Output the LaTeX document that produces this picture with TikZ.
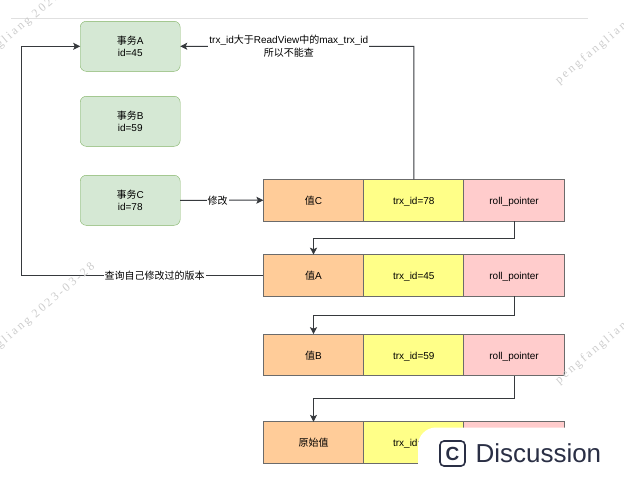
\documentclass[tikz,border=0pt]{standalone}
\usepackage{fontspec}
\setmainfont{Liberation Sans}
\newfontfamily\cjk{Noto Sans CJK SC}
\newfontfamily\markfont[LetterSpace=20]{Liberation Serif}
\usepackage{tikz}
\usetikzlibrary{arrows.meta, positioning}
\definecolor{boxline}{HTML}{36393D}
\definecolor{badgeink}{HTML}{2A2F45}
\definecolor{txnfill}{HTML}{D5E8D4}
\definecolor{txnline}{HTML}{82B366}
\definecolor{valfill}{HTML}{FFCC99}
\definecolor{trxfill}{HTML}{FFFF88}
\definecolor{ptrfill}{HTML}{FFCCCC}
\tikzset{
	txn/.style={
		rectangle, 
		rounded corners=6pt, 
		minimum width=100pt, 
		minimum height=50pt, 
		text centered, 
		align=center,
		draw=txnline, 
		fill=txnfill,
		font=\fontsize{10}{12.5}\selectfont,
		outer sep=0pt
	},
	cell/.style={
		rectangle, 
		minimum width=100.3pt, 
		minimum height=41.6pt, 
		text height=9pt,
		text depth=1pt,
		text centered, 
		draw=black!58, 
		line width=1pt,
		font=\fontsize{10}{12.5}\selectfont,
		outer sep=0pt
	},
	val/.style={cell, fill=valfill},
	trx/.style={cell, fill=trxfill},
	ptr/.style={cell, fill=ptrfill},
	lbl/.style={
		fill=white, 
		inner sep=1pt, 
		align=center,
		font=\fontsize{10}{12.5}\selectfont
	},
	watermark/.style={
		anchor=west, 
		rotate=40, 
		text=black!20, 
		inner sep=0pt,
		font=\markfont\fontsize{12}{12}\selectfont
	},
	arrow/.style={draw=boxline, line width=1pt,-{Stealth[length=7pt,width=7pt,inset=1.5pt]}}
}

\begin{document}
\begin{tikzpicture}[x=1pt, y=-1pt]
				\useasboundingbox (0,0) rectangle (624,479);
				\draw [black!12, line width=0.8pt] (11,18.5) -- (588,18.5);
				
				\node (txnA) [txn] at (130.2,46.3) {{\cjk 事务}A\\id=45};
				\node (txnB) [txn] at (130.2,121.3) {{\cjk 事务}B\\id=59};
				\node (txnC) [txn] at (130.2,200.3) {{\cjk 事务}C\\id=78};
				
				\node (valC) [val] at (313.5,200.2) {{\cjk 值}C};
				\node (trxC) [trx, right=0pt of valC] {trx\_id=78};
				\node (ptrC) [ptr, right=0pt of trxC] {roll\_pointer};
				
				\node (valA) [val] at (313.5,275.5) {{\cjk 值}A};
				\node (trxA) [trx, right=0pt of valA] {trx\_id=45};
				\node (ptrA) [ptr, right=0pt of trxA] {roll\_pointer};
				
				\node (valB) [val] at (313.5,355) {{\cjk 值}B};
				\node (trxB) [trx, right=0pt of valB] {trx\_id=59};
				\node (ptrB) [ptr, right=0pt of trxB] {roll\_pointer};
				
				\node (valO) [val] at (313.5,442.7) {\cjk 原始值};
				\node (trxO) [trx, right=0pt of valO] {trx\_id=\phantom{00}};
				\node (ptrO) [ptr, right=0pt of trxO] {};
				
				\coordinate (bendA) at (413.8,46.3);
				\coordinate (bendQ) at (21.7,275.5);
				
				\draw [arrow] (txnC) -- node[lbl, pos=.45] {\cjk 修改} (valC);
				\draw [arrow] (trxC.north) -- (bendA) -- node[lbl, pos=.535] {trx\_id{\cjk 大于}ReadView{\cjk 中的}max\_trx\_id\\{\cjk 所以不能查}} (txnA.east);
				\draw [arrow] (valA.west) -- node[lbl, pos=.45] {\cjk 查询自己修改过的版本} (bendQ) |- (txnA.west);
				\draw [arrow] (ptrC.south) -- ++(0,17.6) -| (valA.north);
				\draw [arrow] (ptrA.south) -- ++(0,19) -| (valB.north);
				\draw [arrow] (ptrB.south) -- ++(0,23) -| (valO.north);
				
				\node (markTL) [watermark] at (-45,82) {pengfangliang 2023-03-28};
				\node (markBL) [watermark] at (-45,382) {pengfangliang 2023-03-28};
				\node (markTR) [watermark] at (557,82) {pengfangliang 2023-03-28};
				\node (markBR) [watermark] at (557,382) {pengfangliang 2023-03-28};
				
				\fill [white, rounded corners=18pt] (418,427.5) rectangle (660,520);
				\node (badge) [draw=badgeink, line width=1.6pt, rounded corners=4pt, minimum width=25pt, minimum height=25pt, inner sep=0pt, text=badgeink, font=\bfseries\fontsize{19}{19}\selectfont] at (452.5,453.5) {C};
				\node (discussion) [right=9.5pt of badge, inner sep=0pt, text=badgeink, font=\fontsize{26}{26}\selectfont] {Discussion};
			\end{tikzpicture}
\end{document}
